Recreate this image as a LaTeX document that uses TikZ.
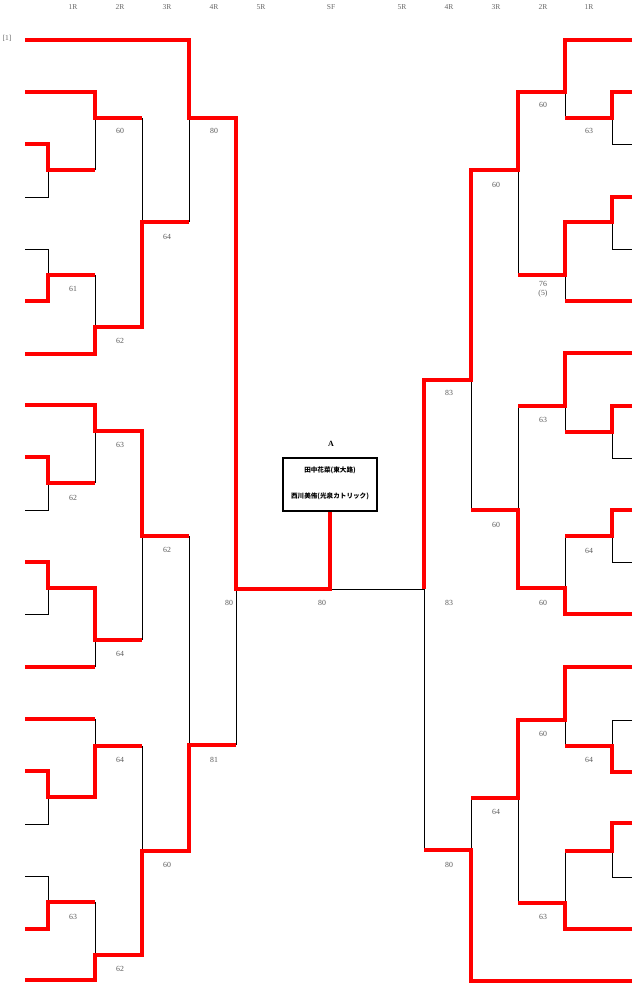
\documentclass[tikz,border=0pt]{standalone}
\usepackage{fontspec}
\setmainfont{Liberation Serif}
\newfontfamily\cjkfont{Noto Sans CJK JP}
\begin{document}
\begin{tikzpicture}[x=1pt,y=-1pt,
  win/.style={draw=red,line width=4pt},
  los/.style={draw=black,line width=0.9pt},
  sc/.style={font=\fontsize{7.8}{8}\selectfont,text=black!65,inner sep=0pt},
  hdr/.style={font=\fontsize{7.5}{8}\selectfont,text=black!60,inner sep=0pt},
  names/.style={font=\cjkfont\bfseries\fontsize{6.6}{7}\selectfont,inner sep=0pt},
  finalbox/.style={draw=black,line width=1.3pt,minimum width=94pt,minimum height=53pt,inner sep=0pt,fill=white}]
\useasboundingbox (0,0) rectangle (640,988);
% headers
\foreach \x/\t [count=\i] in {73/1R,120/2R,167/3R,214/4R,261/5R,331/SF,402/5R,449/4R,496/3R,543/2R,589/1R}
  \node[hdr] (h\i) at (\x,7) {\t};
\node[hdr] (seed) at (7,38) {[1]};
% ---------- black (losing) lines, left ----------
\draw[los] (48,170) -- (48,197) -- (25,197);
\draw[los] (95,118) -- (95,170);
\draw[los] (142,118) -- (142,222);
\draw[los] (189,118) -- (189,222);
\draw[los] (25,249) -- (48,249) -- (48,275);
\draw[los] (95,275) -- (95,327);
\draw[los] (48,483) -- (48,510) -- (25,510);
\draw[los] (95,431) -- (95,483);
\draw[los] (142,536) -- (142,640);
\draw[los] (189,536) -- (189,745);
\draw[los] (48,588) -- (48,614) -- (25,614);
\draw[los] (95,640) -- (95,667);
\draw[los] (95,719) -- (95,746);
\draw[los] (48,797) -- (48,824) -- (25,824);
\draw[los] (142,746) -- (142,851);
\draw[los] (25,876) -- (48,876) -- (48,902);
\draw[los] (95,902) -- (95,955);
\draw[los] (236,589) -- (236,745);
\draw[los] (330,589) -- (424,589);
% ---------- black lines, right ----------
\draw[los] (612,118) -- (612,144) -- (632,144);
\draw[los] (565,92) -- (565,118);
\draw[los] (518,170) -- (518,275);
\draw[los] (612,222) -- (612,249) -- (632,249);
\draw[los] (565,275) -- (565,301);
\draw[los] (565,406) -- (565,432);
\draw[los] (612,432) -- (612,458) -- (632,458);
\draw[los] (518,406) -- (518,510);
\draw[los] (471,380) -- (471,510);
\draw[los] (612,536) -- (612,562) -- (632,562);
\draw[los] (565,536) -- (565,588);
\draw[los] (424,589) -- (424,850);
\draw[los] (565,720) -- (565,746);
\draw[los] (632,720) -- (612,720) -- (612,746);
\draw[los] (518,798) -- (518,903);
\draw[los] (471,798) -- (471,850);
\draw[los] (612,851) -- (612,877) -- (632,877);
\draw[los] (565,851) -- (565,903);
% ---------- final box ----------
\node[font=\bfseries\fontsize{8}{9}\selectfont,inner sep=0pt] (poolA) at (331,444) {A};
\node[finalbox] (champ) at (330,484.5) {};
\node[names] (p1) at (330,470) {田中花菜(東大路)};
\node[names] (p2) at (330,496) {西川美侑(光泉カトリック)};
% ---------- red (winning) lines, left ----------
\draw[win] (25,40) -- (189,40) -- (189,118) -- (236,118) -- (236,589) -- (330,589) -- (champ.south);
\draw[win] (25,92) -- (95,92) -- (95,118) -- (142,118);
\draw[win] (25,144) -- (48,144) -- (48,170) -- (95,170);
\draw[win] (25,301) -- (48,301) -- (48,275) -- (95,275);
\draw[win] (25,354) -- (95,354) -- (95,327) -- (142,327) -- (142,222) -- (189,222);
\draw[win] (25,405) -- (95,405) -- (95,431) -- (142,431) -- (142,536) -- (189,536);
\draw[win] (25,457) -- (48,457) -- (48,483) -- (95,483);
\draw[win] (25,562) -- (48,562) -- (48,588) -- (95,588) -- (95,640) -- (142,640);
\draw[win] (25,667) -- (95,667);
\draw[win] (25,719) -- (95,719);
\draw[win] (25,771) -- (48,771) -- (48,797) -- (95,797) -- (95,746) -- (142,746);
\draw[win] (25,929) -- (48,929) -- (48,902) -- (95,902);
\draw[win] (25,980) -- (95,980) -- (95,955) -- (142,955) -- (142,851) -- (189,851) -- (189,745) -- (236,745);
% ---------- red lines, right ----------
\draw[win] (632,40) -- (565,40) -- (565,92) -- (518,92) -- (518,170) -- (471,170) -- (471,380) -- (424,380) -- (424,589);
\draw[win] (632,92) -- (612,92) -- (612,118) -- (565,118);
\draw[win] (632,197) -- (612,197) -- (612,222) -- (565,222) -- (565,275) -- (518,275);
\draw[win] (632,301) -- (565,301);
\draw[win] (632,353) -- (565,353) -- (565,406) -- (518,406);
\draw[win] (632,406) -- (612,406) -- (612,432) -- (565,432);
\draw[win] (632,510) -- (612,510) -- (612,536) -- (565,536);
\draw[win] (632,614) -- (565,614) -- (565,588) -- (518,588) -- (518,510) -- (471,510);
\draw[win] (632,667) -- (565,667) -- (565,720) -- (518,720) -- (518,798) -- (471,798);
\draw[win] (632,772) -- (612,772) -- (612,746) -- (565,746);
\draw[win] (632,823) -- (612,823) -- (612,851) -- (565,851);
\draw[win] (632,929) -- (565,929) -- (565,903) -- (518,903);
\draw[win] (632,981) -- (471,981) -- (471,850) -- (424,850);
% ---------- scores ----------
\foreach \x/\y/\t [count=\i] in {
  120/131/60, 214/131/80, 167/237/64, 73/289/61, 120/341/62,
  120/445/63, 73/498/62, 167/550/62, 120/654/64, 229/603/80,
  120/760/64, 214/760/81, 167/865/60, 73/917/63, 120/969/62,
  322/603/80, 449/603/83,
  543/105/60, 589/131/63, 496/185/60, 543/284/76, 543/294/(5),
  449/393/83, 543/420/63, 496/525/60, 589/551/64, 543/603/60,
  543/734/60, 589/760/64, 496/812/64, 449/865/80, 543/917/63}
  \node[sc] (s\i) at (\x,\y) {\t};
\end{tikzpicture}
\end{document}
